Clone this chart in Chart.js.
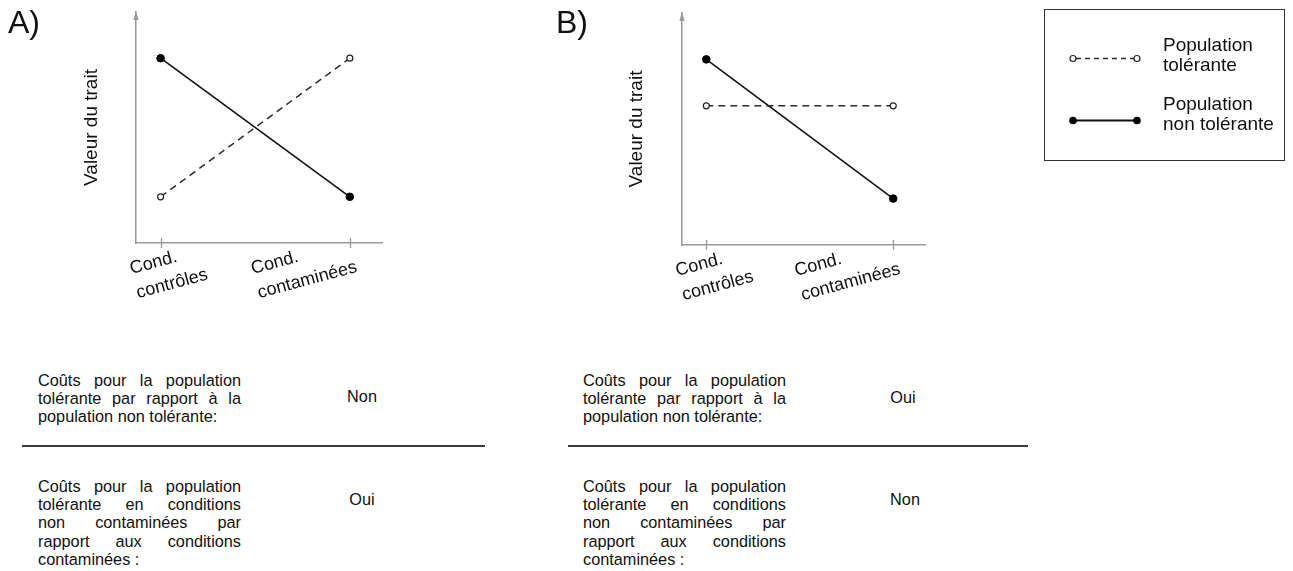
<!DOCTYPE html>
<html><head><meta charset="utf-8">
<script src="https://cdn.jsdelivr.net/npm/chart.js@4.4.0/dist/chart.umd.min.js"></script>
<style>
html,body{margin:0;padding:0;background:#fff}
body{width:1293px;height:571px;overflow:hidden;position:relative;font-family:"Liberation Sans",Arial,sans-serif;color:#111}
.abs{position:absolute;white-space:nowrap}
.panel{font-size:32px;line-height:32px;color:#111}
.leg{font-size:19px;line-height:20px;color:#111;left:1163px}
.para{position:absolute;width:203px;font-size:16.3px;line-height:18.4px;color:#111}
.para div{text-align:justify;text-align-last:justify;white-space:nowrap}
.para div.last{text-align:left;text-align-last:left}
.ans{position:absolute;width:64px;text-align:center;font-size:16.3px;line-height:18.4px;color:#111}
.rule{position:absolute;height:2px;background:#3a3a3a}
canvas{position:absolute}
</style></head><body>

<canvas id="chartA" width="540" height="330" style="left:0;top:0"></canvas>
<canvas id="chartB" width="500" height="330" style="left:540px;top:0"></canvas>
<canvas id="legendCanvas" width="253" height="170" style="left:1040px;top:0"></canvas>

<div class="abs panel" style="left:8px;top:6px">A)</div>
<div class="abs panel" style="left:556px;top:6px">B)</div>

<div class="abs leg" style="top:35.4px">Population<br>tolérante</div>
<div class="abs leg" style="top:94.4px">Population<br>non tolérante</div>

<div class="para" style="left:38px;top:370.5px">
<div>Coûts pour la population</div><div>tolérante par rapport à la</div><div class="last">population non tolérante:</div>
</div>
<div class="ans" style="left:330px;top:387px">Non</div>
<div class="rule" style="left:22px;top:445px;width:463px"></div>
<div class="para" style="left:38px;top:476.5px">
<div>Coûts pour la population</div><div>tolérante en conditions</div><div>non contaminées par</div><div>rapport aux conditions</div><div class="last">contaminées :</div>
</div>
<div class="ans" style="left:330px;top:490px">Oui</div>

<div class="para" style="left:583px;top:370.5px">
<div>Coûts pour la population</div><div>tolérante par rapport à la</div><div class="last">population non tolérante:</div>
</div>
<div class="ans" style="left:871px;top:388px">Oui</div>
<div class="rule" style="left:568px;top:445px;width:460px"></div>
<div class="para" style="left:583px;top:476.5px">
<div>Coûts pour la population</div><div>tolérante en conditions</div><div>non contaminées par</div><div>rapport aux conditions</div><div class="last">contaminées :</div>
</div>
<div class="ans" style="left:873px;top:490px">Non</div>

<script>
// ---- data ----
const conditionLabels = [["Cond.", "contrôles"], ["Cond.", "contaminées"]];
const conditionPositions = [0, 1];
const tolerantA = [2, 8];
const nonTolerantA = [8, 2];
const tolerantB = [6, 6];
const nonTolerantB = [8, 2];
const seriesNames = ["Population tolérante", "Population non tolérante"];
const yAxisTitle = "Valeur du trait";
const yRange = [0, 10];
const xRange = [-0.13, 1.17];

const FONT = '"Liberation Sans", Arial, sans-serif';
const AXIS_COLOR = '#9a9a9a';

const decoPlugin = {
  id: 'deco',
  afterDraw(chart, args, opts) {
    const ctx = chart.ctx;
    const xs = chart.scales.x, ys = chart.scales.y;
    const ca = chart.chartArea;
    const axX = Math.round(ca.left) ;
    ctx.save();
    // arrow head on y axis
    ctx.fillStyle = AXIS_COLOR;
    ctx.beginPath();
    ctx.moveTo(axX, ca.top - 1);
    ctx.lineTo(axX - 2.6, ca.top + 8);
    ctx.lineTo(axX + 2.6, ca.top + 8);
    ctx.closePath();
    ctx.fill();
    // tick marks crossing the x axis
    ctx.strokeStyle = AXIS_COLOR;
    ctx.lineWidth = 1.3;
    conditionPositions.forEach(v => {
      const px = Math.round(xs.getPixelForValue(v)) + 0.5;
      ctx.beginPath();
      ctx.moveTo(px, ca.bottom - 5);
      ctx.lineTo(px, ca.bottom + 5);
      ctx.stroke();
    });
    // rotated category labels
    ctx.fillStyle = '#111';
    ctx.font = '18px ' + FONT;
    ctx.textAlign = 'left';
    ctx.textBaseline = 'alphabetic';
    conditionPositions.forEach((v, i) => {
      const px = xs.getPixelForValue(v) + opts.labelDx[i];
      const py = ca.bottom + opts.labelDy;
      ctx.save();
      ctx.translate(px, py);
      ctx.rotate(opts.rotation * Math.PI / 180);
      conditionLabels[i].forEach((line, k) => ctx.fillText(line, 0, k * opts.lineGap));
      ctx.restore();
    });
    ctx.restore();
  }
};

function makeChart(id, tol, non, lay) {
  const toPts = arr => arr.map((y, i) => ({x: conditionPositions[i], y}));
  return new Chart(document.getElementById(id), {
    type: 'line',
    data: {
      datasets: [
        {
          label: seriesNames[0], data: toPts(tol),
          borderColor: '#2a2a2a', borderWidth: 1.5, borderDash: [7, 5],
          pointRadius: 3, pointBorderWidth: 1.2, pointBorderColor: '#222',
          pointBackgroundColor: '#fff', fill: false, tension: 0
        },
        {
          label: seriesNames[1], data: toPts(non),
          borderColor: '#111', borderWidth: 1.6,
          pointRadius: 3.8, pointBorderWidth: 1, pointBorderColor: '#000',
          pointBackgroundColor: '#000', fill: false, tension: 0
        }
      ]
    },
    options: {
      responsive: false, animation: false, events: [],
      devicePixelRatio: 1,
      layout: { padding: { left: 0, top: lay.top, right: lay.right, bottom: 0 } },
      plugins: {
        legend: { display: false }, tooltip: { enabled: false },
        deco: { labelDx: [-29, -97], labelDy: 31, lineGap: 25, rotation: -15 }
      },
      scales: {
        x: {
          type: 'linear', min: xRange[0], max: xRange[1],
          grid: { display: false }, ticks: { display: false },
          border: { display: true, color: AXIS_COLOR, width: 1.5 },
          afterFit: s => { s.height = lay.xHeight; }
        },
        y: {
          type: 'linear', min: yRange[0], max: yRange[1],
          grid: { display: false }, ticks: { display: false },
          border: { display: true, color: AXIS_COLOR, width: 1.5 },
          title: { display: true, text: yAxisTitle, color: '#111',
                   font: { family: FONT, size: 19 }, padding: { top: lay.titlePad, bottom: 0 } },
          afterFit: s => { s.width = lay.yWidth; }
        }
      }
    },
    plugins: [decoPlugin]
  });
}

makeChart('chartA', tolerantA, nonTolerantA, { top: 12, right: 540 - 382, xHeight: 330 - 243, yWidth: 136, titlePad: 80 });
makeChart('chartB', tolerantB, nonTolerantB, { top: 13, right: 500 - 385, xHeight: 330 - 245, yWidth: 142, titlePad: 85.5 });

// legend symbols
(function () {
  const c = document.getElementById('legendCanvas').getContext('2d');
  const ox = 1040;
  c.strokeStyle = '#333'; c.lineWidth = 1;
  c.strokeRect(1044.5 - ox, 9.5, 240, 151);
  // tolerant: dashed with open circles
  c.strokeStyle = '#2a2a2a'; c.lineWidth = 1.3; c.setLineDash([5, 4]);
  c.beginPath(); c.moveTo(1076 - ox, 58.5); c.lineTo(1134 - ox, 58.5); c.stroke();
  c.setLineDash([]);
  [1073, 1137].forEach(x => {
    c.beginPath(); c.arc(x - ox, 58.5, 3, 0, Math.PI * 2);
    c.fillStyle = '#fff'; c.fill(); c.lineWidth = 1.2; c.strokeStyle = '#222'; c.stroke();
  });
  // non tolerant: solid with filled circles
  c.strokeStyle = '#111'; c.lineWidth = 2;
  c.beginPath(); c.moveTo(1073 - ox, 120.5); c.lineTo(1137 - ox, 120.5); c.stroke();
  [1073, 1137].forEach(x => {
    c.beginPath(); c.arc(x - ox, 120.5, 3.8, 0, Math.PI * 2);
    c.fillStyle = '#000'; c.fill();
  });
})();
</script>
</body></html>
